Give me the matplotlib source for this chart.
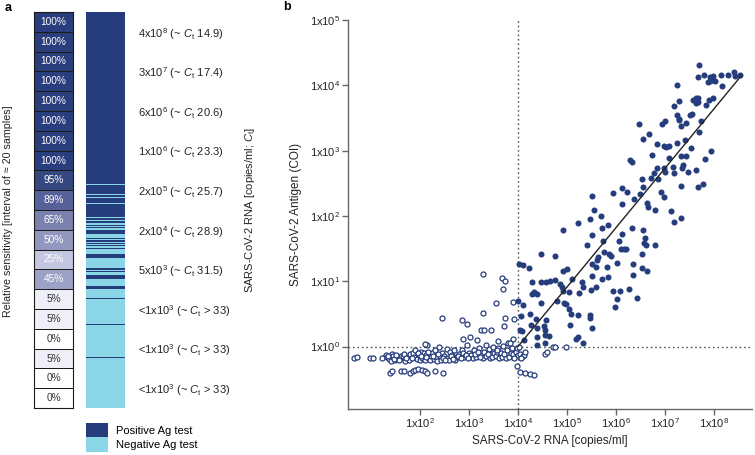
import numpy as np
import matplotlib
matplotlib.use("Agg")
import matplotlib.pyplot as plt
from matplotlib.colors import LinearSegmentedColormap, ListedColormap
from matplotlib.patches import Patch
from matplotlib.ticker import FixedLocator, FuncFormatter, NullLocator

plt.rcParams['font.family'] = ['Liberation Sans', 'DejaVu Sans']
plt.rcParams['mathtext.fontset'] = 'custom'
plt.rcParams['mathtext.rm'] = 'Liberation Sans'
plt.rcParams['mathtext.it'] = 'Liberation Sans:italic'
plt.rcParams['mathtext.bf'] = 'Liberation Sans:bold'

# ---------------- data: panel a ----------------
sensitivity = [100, 100, 100, 100, 100, 100, 100, 100, 95, 89,
               65, 50, 25, 45, 5, 5, 0, 5, 0, 0]
# 1 = positive Ag test, 0 = negative, ~20 samples per interval (sorted by RNA load)
strip_patterns = [
    "11111111111111111111", "11111111111111111111", "11111111111111111111",
    "11111111111111111111", "11111111111111111111", "11111111111111111111",
    "11111111111111111111", "11111111111111111111",
    "11111111111111011111",
    "11110110111110111111",
    "11111110110110010100",
    "11110000101101010010",
    "00001111000000000001",
    "10100011110000000111",
    "00000000010000000000",
    "00000000000000010000",
    "00000000000000000000",
    "00000000100000000000",
    "00000000000000000000",
    "00000000000000000000",
]
rna_labels = [
    r"4x10$^{8}$ (~ $C_{\mathrm{t}}$ 14.9)",
    r"3x10$^{7}$ (~ $C_{\mathrm{t}}$ 17.4)",
    r"6x10$^{6}$ (~ $C_{\mathrm{t}}$ 20.6)",
    r"1x10$^{6}$ (~ $C_{\mathrm{t}}$ 23.3)",
    r"2x10$^{5}$ (~ $C_{\mathrm{t}}$ 25.7)",
    r"2x10$^{4}$ (~ $C_{\mathrm{t}}$ 28.9)",
    r"5x10$^{3}$ (~ $C_{\mathrm{t}}$ 31.5)",
    r"<1x10$^{3}$ (~ $C_{\mathrm{t}}$ > 33)",
    r"<1x10$^{3}$ (~ $C_{\mathrm{t}}$ > 33)",
    r"<1x10$^{3}$ (~ $C_{\mathrm{t}}$ > 33)",
]

# ---------------- data: panel b (log10 values) ----------------
neg_lx = [0.65, 0.72, 0.98, 1.05, 1.22, 1.30, 1.32, 1.37, 1.40, 1.42,
          1.45, 1.50, 1.55, 1.60, 1.62, 1.65, 1.70, 1.75, 1.78, 1.80,
          1.85, 1.88, 1.90, 1.93, 1.98, 2.00, 2.02, 2.05, 2.08, 2.10,
          2.12, 2.15, 2.18, 2.20, 2.22, 2.25, 2.28, 2.30, 2.32, 2.35,
          2.40, 2.42, 2.45, 2.50, 2.55, 2.58, 2.60, 2.62, 2.66, 2.70,
          2.72, 2.75, 2.80, 2.85, 2.88, 2.90, 2.95, 3.00, 3.05, 3.08,
          3.10, 3.15, 3.20, 3.25, 3.28, 3.30, 3.35, 3.40, 3.42, 3.45,
          3.48, 3.50, 3.52, 3.55, 3.58, 3.60, 3.62, 3.65, 3.68, 3.70,
          3.75, 3.80, 3.82, 3.85, 3.88, 3.90, 3.95, 3.98, 4.00, 4.05,
          4.10, 4.02, 4.12, 4.55, 4.60, 4.71, 4.76, 4.98, 4.15,
          1.38, 1.42, 1.62, 1.67, 1.80, 1.85, 1.90, 1.95, 2.05, 2.10,
          2.15, 2.30, 2.47, 3.97, 4.05, 4.15, 4.25, 4.32,
          3.29, 3.67, 3.73, 3.69, 3.55, 3.90, 2.45, 2.86, 2.96, 3.29,
          3.73, 3.92, 3.71, 3.24, 3.31, 3.45, 2.88, 3.02, 3.16, 3.90,
          2.10, 2.39, 3.84, 3.60, 3.35,
          1.35, 1.47, 1.52, 1.58, 1.68, 1.72, 1.83, 1.95, 2.03, 2.13,
          2.17, 2.27, 2.37, 2.47, 2.52, 2.64, 2.68, 2.78, 2.83, 2.93,
          2.98, 3.12, 3.18, 3.22, 3.38, 3.57, 3.72, 3.78, 3.92, 4.07]
neg_ly = [-0.18, -0.16, -0.17, -0.18, -0.18, -0.13, -0.16, -0.19, -0.22, -0.12,
          -0.15, -0.20, -0.17, -0.18, -0.14, -0.15, -0.22, -0.17, -0.20, -0.12,
          -0.10, -0.16, -0.05, -0.19, -0.13, -0.20, -0.08, -0.17, -0.10, -0.20,
          -0.13, 0.02, -0.18, -0.20, -0.15, -0.10, -0.19, -0.06, -0.16, -0.22,
          -0.15, -0.20, -0.10, -0.14, -0.04, -0.17, -0.20, -0.08, -0.13, -0.05,
          -0.20, -0.16, -0.12, -0.05, -0.10, -0.16, 0.02, -0.10, -0.13, -0.17,
          -0.05, -0.16, -0.02, -0.13, -0.18, -0.08, -0.15, -0.04, -0.18, -0.12,
          -0.16, 0.00, -0.10, -0.15, -0.08, -0.03, -0.18, -0.10, -0.16, 0.01,
          -0.17, 0.05, -0.16, -0.10, -0.02, -0.12, -0.08, -0.03, -0.13, -0.12,
          -0.14, 0.00, -0.13, -0.12, -0.08, 0.00, 0.00, 0.00, -0.09,
          -0.40, -0.37, -0.38, -0.38, -0.40, -0.37, -0.36, -0.35, -0.36, -0.38,
          -0.41, -0.38, -0.40, -0.30, -0.39, -0.41, -0.42, -0.43,
          1.11, 1.05, 1.00, 0.88, 0.67, 0.68, 0.44, 0.41, 0.34, 0.51,
          0.44, 0.42, 0.31, 0.25, 0.25, 0.25, 0.11, 0.14, 0.10, 0.11,
          0.04, 0.00, 0.05, 0.09, 0.02,
          -0.14, -0.19, -0.13, -0.21, -0.12, -0.17, -0.18, -0.10, -0.14, -0.16,
          -0.09, -0.14, -0.12, -0.17, -0.21, -0.15, -0.19, -0.14, -0.18, -0.13,
          -0.18, -0.12, -0.08, -0.16, -0.11, -0.05, -0.12, -0.06, -0.17, -0.17]

pos_lx = [7.69, 7.67, 7.79, 7.91, 7.97, 7.95, 7.92, 7.87, 8.03, 8.15,
          8.29, 8.40, 8.42, 8.54, 8.16, 7.25, 7.29, 7.19, 7.58, 7.63,
          7.67, 7.63, 7.68, 7.83, 7.90, 7.99, 7.73, 7.69, 7.25, 7.29,
          7.28, 7.32, 7.42, 7.51, 7.55, 7.01, 6.93, 6.48, 6.67, 6.56,
          6.84, 6.98, 7.03, 7.08, 7.24, 7.41, 7.53, 7.93, 7.82, 6.74,
          7.08, 7.33, 7.42, 6.29, 6.33, 6.83, 6.98, 7.01, 7.17, 7.18,
          7.37, 7.35, 7.48, 7.63, 6.78, 6.71, 6.53, 6.86, 6.56, 7.32,
          7.67, 7.78, 6.12, 6.22, 5.93, 5.52, 6.49, 6.91, 6.98, 6.37,
          6.13, 6.63, 6.65, 6.80, 7.12, 7.19, 7.32, 5.55, 5.69, 5.46,
          5.22, 4.91, 5.84, 5.71, 5.52, 5.40, 5.74, 6.06, 6.13, 6.33,
          6.56, 6.59, 6.57, 6.61, 6.80, 6.53, 5.76, 5.86, 5.89, 5.63,
          5.61, 5.52, 5.59, 5.51, 5.71, 5.83, 5.81, 6.03, 6.10, 6.16,
          6.20, 6.34, 6.35, 6.54, 6.64, 5.93, 6.08, 6.27, 6.03, 5.98,
          6.42, 5.60, 5.50, 5.30, 5.32, 5.25, 5.11, 5.01, 4.91, 4.76,
          4.65, 4.86, 4.89, 4.91, 5.05, 4.80, 4.94, 4.98, 5.05, 5.08,
          5.22, 5.47, 5.48, 5.51, 5.22, 5.18, 5.33, 5.06, 4.76, 4.64,
          4.03, 4.11, 4.23, 4.46, 4.28, 4.46, 4.33, 4.28, 4.38, 4.48,
          4.01, 4.11, 4.24, 4.37, 4.58, 4.05, 4.09, 4.38, 4.55, 4.12,
          4.38, 4.55, 4.38, 4.55, 4.07, 4.26, 4.53, 4.58]
pos_ly = [4.31, 4.12, 4.16, 4.12, 4.14, 4.08, 4.06, 4.05, 4.07, 4.16,
          4.16, 4.20, 4.15, 4.16, 3.99, 4.00, 3.76, 3.68, 3.77, 3.81,
          3.80, 3.73, 3.75, 3.70, 3.77, 3.80, 3.45, 3.28, 3.54, 3.49,
          3.47, 3.38, 3.43, 3.54, 3.56, 3.45, 3.41, 3.40, 3.26, 3.18,
          3.10, 3.07, 3.05, 3.07, 3.12, 3.16, 3.04, 3.00, 2.87, 2.93,
          2.88, 2.91, 2.91, 2.85, 2.82, 2.74, 2.74, 2.67, 2.75, 2.65,
          2.78, 2.73, 2.67, 2.71, 2.65, 2.58, 2.56, 2.57, 2.45, 2.46,
          2.44, 2.49, 2.42, 2.37, 2.35, 2.31, 2.33, 2.36, 2.29, 2.26,
          2.18, 2.20, 2.14, 2.09, 2.08, 1.91, 1.97, 2.09, 2.00, 1.95,
          1.89, 1.79, 1.86, 1.81, 1.71, 1.56, 1.62, 1.62, 1.73, 1.82,
          1.79, 1.66, 1.59, 1.56, 1.55, 1.42, 1.44, 1.42, 1.39, 1.37,
          1.33, 1.27, 1.22, 1.08, 1.03, 1.06, 1.22, 1.28, 1.49, 1.49,
          1.49, 1.27, 1.09, 1.20, 1.16, 0.85, 0.85, 0.88, 0.72, 0.60,
          0.74, 0.91, 0.86, 0.99, 0.91, 0.82, 1.04, 1.18, 1.15, 1.02,
          1.01, 0.96, 0.91, 0.85, 0.84, 0.69, 0.67, 0.65, 0.57, 0.50,
          0.48, 0.48, 0.43, 0.29, 0.15, 0.12, 0.06, 0.33, 1.39, 0.16,
          1.27, 1.25, 1.20, 1.41, 0.99, 0.99, 0.84, 0.80, 0.81, 0.67,
          0.70, 0.63, 0.50, 0.42, 0.41, 0.26, 0.24, 0.28, 0.26, 0.10,
          0.15, 0.18, 0.02, 0.05, 0.46, 0.33, 0.31, 0.99]

fit_lx = [4.0, 8.55]
fit_ly = [0.0, 4.14]
cutoff_rna = 1e4
cutoff_coi = 1.0

# ---------------- styling ----------------
NAVY = "#263d7d"
CYAN = "#8ad6e6"
W, H = 755, 455
fig = plt.figure(figsize=(W / 100, H / 100), dpi=100)

def px_rect(x0, y0, x1, y1):
    return [x0 / W, 1 - y1 / H, (x1 - x0) / W, (y1 - y0) / H]

# --- sensitivity column ---
ax_h = fig.add_axes(px_rect(34, 12, 73, 408))
cmap_s = LinearSegmentedColormap.from_list(
    "sens", [(0, "#ffffff"), (0.05, "#eeeff6"), (0.25, "#c5c7e0"), (0.45, "#9ca1c6"),
             (0.5, "#9297bf"), (0.65, "#7a81ae"), (0.89, "#56619a"), (0.95, "#36487f"),
             (1.0, "#2a3d7c")])
vals = np.array(sensitivity, dtype=float)[:, None]
ax_h.pcolormesh(np.arange(2), np.arange(len(sensitivity) + 1), vals, cmap=cmap_s,
                vmin=0, vmax=100, edgecolors="#1a1a1a", linewidth=0.6)
ax_h.set_xlim(0, 1)
ax_h.set_ylim(len(sensitivity), 0)
for i, v in enumerate(sensitivity):
    ax_h.text(0.5, i + 0.5, f"{v}%", ha="center", va="center", fontsize=7.3,
              color="white" if v >= 25 else "#333333")
ax_h.set_xticks([]); ax_h.set_yticks([])
for s in ax_h.spines.values():
    s.set_color("#1a1a1a"); s.set_linewidth(0.8)

# --- stripe column ---
ax_s = fig.add_axes(px_rect(86, 12, 124, 408))
strip = np.array([[int(c)] for p in strip_patterns for c in p])
n = len(strip)
ax_s.imshow(strip, cmap=ListedColormap([CYAN, NAVY]), vmin=0, vmax=1, aspect="auto",
            interpolation="nearest", extent=(0, 1, n, 0))
for s in ax_s.spines.values():
    s.set_visible(False)
ax_s.set_xticks([])
per = n // len(sensitivity)
ax_s.yaxis.tick_right()
ax_s.set_yticks([per * (2 * k + 1) for k in range(len(rna_labels))])
ax_s.set_yticklabels(rna_labels, fontsize=8, color="#222222")
ax_s.tick_params(axis="y", length=0, pad=10)

fig.text(8 / W, 1 - 211 / H, "Relative sensitivity [interval of \u2248 20 samples]",
         rotation=90, ha="center", va="center", fontsize=7.7, color="#222222")
fig.text(250 / W, 1 - 210 / H, r"SARS-CoV-2 RNA [copies/ml; $C_{\mathrm{t}}$]",
         rotation=90, ha="center", va="center", fontsize=8, color="#222222")

fig.legend(handles=[Patch(fc=NAVY, ec="none"), Patch(fc=CYAN, ec="none")],
           labels=["Positive Ag test", "Negative Ag test"], loc="upper left",
           bbox_to_anchor=(86 / W, 1 - 423 / H), frameon=False, fontsize=8,
           handlelength=2.0, handleheight=1.6, labelspacing=0.0, borderpad=0,
           borderaxespad=0, handletextpad=0.7)

fig.text(5 / W, 1 - 8 / H, "a", fontsize=9, fontweight="bold", ha="left", va="center")
fig.text(283 / W, 1 - 7 / H, "b", fontsize=9, fontweight="bold", ha="left", va="center")

# --- scatter panel ---
ax = fig.add_axes(px_rect(348, 20, 752, 409))
ax.set_xscale("log"); ax.set_yscale("log")
ax.set_xlim(10 ** 0.531, 10 ** 8.776)
ax.set_ylim(10 ** -0.957, 1e5)
ax.scatter(10 ** np.array(neg_lx), 10 ** np.array(neg_ly), s=13, facecolors="white",
           edgecolors=NAVY, linewidths=0.9, zorder=3)
ax.scatter(10 ** np.array(pos_lx), 10 ** np.array(pos_ly), s=19, color=NAVY,
           linewidths=0, zorder=4)
ax.plot(10 ** np.array(fit_lx), 10 ** np.array(fit_ly), color="#222222", lw=1.0, zorder=5)
ax.axvline(cutoff_rna, color="#555555", lw=1.0, ls=(0, (1.2, 2.0)), zorder=2)
ax.axhline(cutoff_coi, color="#555555", lw=1.0, ls=(0, (1.2, 2.0)), zorder=2)

for side in ["top", "right"]:
    ax.spines[side].set_visible(False)
for side in ["left", "bottom"]:
    ax.spines[side].set_color("#666666"); ax.spines[side].set_linewidth(1.0)
fmt = FuncFormatter(lambda v, p: r"1x10$^{%d}$" % int(round(np.log10(v))))
ax.xaxis.set_major_locator(FixedLocator([1e2, 1e3, 1e4, 1e5, 1e6, 1e7, 1e8]))
ax.yaxis.set_major_locator(FixedLocator([1e0, 1e1, 1e2, 1e3, 1e4, 1e5]))
ax.xaxis.set_minor_locator(NullLocator()); ax.yaxis.set_minor_locator(NullLocator())
ax.xaxis.set_major_formatter(fmt); ax.yaxis.set_major_formatter(fmt)
ax.tick_params(axis="both", direction="out", length=4, width=1.0, color="#666666",
               labelsize=8, labelcolor="#222222", pad=1.5)
ax.set_xlabel("SARS-CoV-2 RNA [copies/ml]", fontsize=8.5, color="#222222")
ax.set_ylabel("SARS-CoV-2 Antigen (COI)", fontsize=8.5, color="#222222")
ax.xaxis.set_label_coords(0.5, -26 / 389)
ax.yaxis.set_label_coords(-46 / 404, 0.5)

fig.savefig("out.png", dpi=100)
